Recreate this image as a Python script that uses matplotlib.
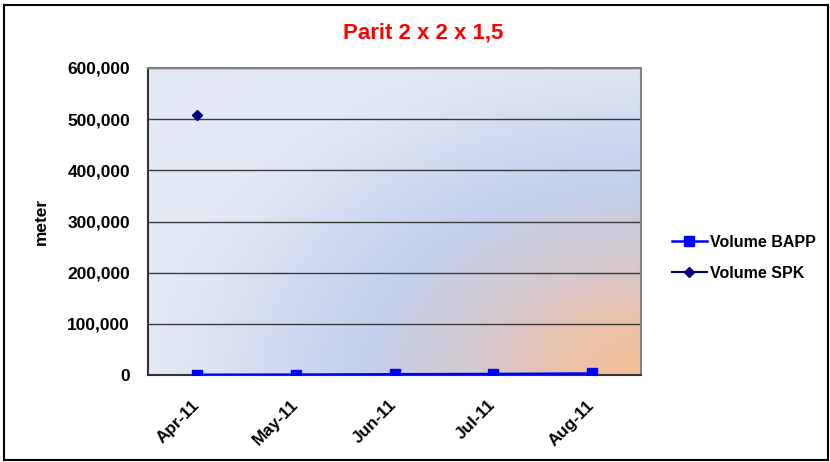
import numpy as np
import matplotlib
matplotlib.use("Agg")
import matplotlib.pyplot as plt
from matplotlib.patches import Rectangle
from matplotlib.ticker import FuncFormatter
from matplotlib.transforms import ScaledTranslation

plt.rcParams['font.family'] = ['Liberation Sans', 'DejaVu Sans']

categories = ["Apr-11", "May-11", "Jun-11", "Jul-11", "Aug-11"]
volume_bapp = [500, 700, 1500, 2000, 3000]
volume_spk = [508000, None, None, None, None]
title = "Parit 2 x 2 x 1,5"
ylabel = "meter"

fig = plt.figure(figsize=(8.3, 4.62), dpi=100)
fig.patch.set_facecolor("white")
fig.patches.append(Rectangle((4/830, 2/462), 824/830, 455/462, transform=fig.transFigure,
                             fill=False, edgecolor="black", linewidth=1.5))

ax = fig.add_axes([148/830, 1-375/462, (641-148)/830, (375-68)/462])

# background gradient (elliptical radial from bottom-right corner)
W, H = 493, 307
px, py = np.meshgrid(np.arange(W), np.arange(H))  # py=0 top
dx = (W - px) / 276.0
dy = (H - py) / 190.0
r = np.sqrt(dx ** 2 + dy ** 2)
stops = [0.0, 0.34, 0.58, 0.88, 1.0, 1.6, 1.8, 3.0]
cols = np.array([
    [246, 190, 146],
    [232, 195, 175],
    [215, 200, 205],
    [200, 205, 225],
    [193, 209, 236],
    [221, 228, 243],
    [227, 233, 245],
    [231, 236, 247],
]) / 255.0
img = np.stack([np.interp(r, stops, cols[:, c]) for c in range(3)], axis=-1)

x = np.arange(len(categories))
ax.set_xlim(-0.5, len(categories) - 0.5)
ax.set_ylim(0, 600000)
ax.imshow(img, extent=[-0.5, len(categories) - 0.5, 0, 600000], aspect="auto",
          origin="upper", zorder=0, interpolation="bilinear")

ax.set_yticks(np.arange(0, 600001, 100000))
ax.yaxis.set_major_formatter(FuncFormatter(lambda v, p: f"{int(v):,}"))
ax.grid(axis="y", color="#3a3a3a", linewidth=1.0, zorder=1)

ax.plot(x, volume_bapp, color="#0000FF", marker="s", markersize=7.5, linewidth=1.8,
        label="Volume BAPP", zorder=3)
spk = np.array([np.nan if v is None else v for v in volume_spk], dtype=float)
ax.plot(x, spk, color="#000080", marker="D", markersize=5.5, linewidth=1.5,
        label="Volume SPK", zorder=3)

ax.set_xticks(x)
ax.set_xticklabels(categories, rotation=45, ha="right", va="center", rotation_mode="anchor",
                   fontsize=12.3, fontweight="bold")
shift = ScaledTranslation(5/100, 0, fig.dpi_scale_trans)
for lbl in ax.get_xticklabels():
    lbl.set_transform(lbl.get_transform() + shift)
for lbl in ax.get_yticklabels():
    lbl.set_fontsize(12.5)
    lbl.set_fontweight("bold")
ax.tick_params(axis="x", length=0, pad=20)
ax.tick_params(axis="y", length=0, pad=13)

for s in ["top", "right"]:
    ax.spines[s].set_color("#808080")
    ax.spines[s].set_linewidth(1.5)
for s in ["left", "bottom"]:
    ax.spines[s].set_color("#333333")
    ax.spines[s].set_linewidth(1.5)

ax.set_ylabel(ylabel, fontsize=12.4, fontweight="bold")
ax.yaxis.set_label_coords((49 - 148) / 493, 0.5)
fig.text(423 / 830, 1 - 32.5 / 462, title, color="red", fontsize=16,
         fontweight="bold", ha="center", va="center")

leg = fig.legend(loc="center left", bbox_to_anchor=(667/830, 1 - 258/462), frameon=False,
                 prop={"size": 11.5, "weight": "bold"}, handlelength=2.2, labelspacing=1.0,
                 handletextpad=0.2, borderaxespad=0, borderpad=0.3)

fig.savefig("out.png", dpi=100)
